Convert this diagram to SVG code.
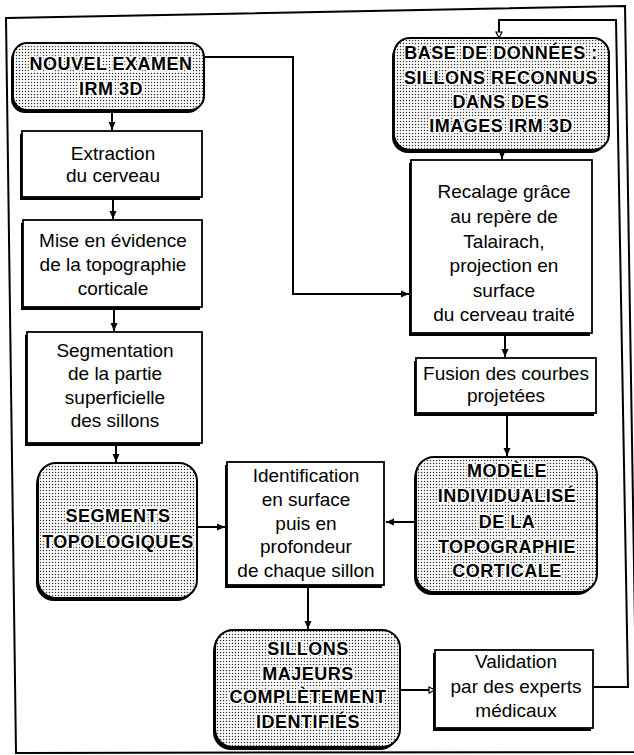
<svg xmlns="http://www.w3.org/2000/svg" width="634" height="755" viewBox="0 0 634 755">
<style>
.box{fill:#fff;stroke:#000;stroke-width:1.8}
.shd{fill:#000}
.dot{fill:url(#dots);stroke:#000;stroke-width:2}
.t{font-family:"Liberation Sans",Arial,sans-serif;font-size:19px;fill:#000;text-anchor:middle}
.b{font-family:"Liberation Sans",Arial,sans-serif;font-size:18px;font-weight:bold;letter-spacing:0.5px;fill:#000;text-anchor:middle;stroke:#fff;stroke-width:3;paint-order:stroke;stroke-linejoin:round}
.c{fill:none;stroke:#000;stroke-width:2}
</style>
<defs>
<pattern id="dots" patternUnits="userSpaceOnUse" width="3" height="3">
<rect width="3" height="3" fill="#fff"/>
<circle cx="1.5" cy="1.5" r="0.72" fill="#333"/>
</pattern>
<marker id="ar" markerUnits="userSpaceOnUse" markerWidth="9" markerHeight="8" refX="8" refY="4" orient="auto">
<path d="M0,0.5 L8,4 L0,7.5 z" fill="#000"/>
</marker>
<marker id="ah" markerUnits="userSpaceOnUse" markerWidth="9" markerHeight="9" refX="7" refY="4" orient="auto">
<path d="M1,1 L7,4 L1,7 z" fill="#fff" stroke="#000" stroke-width="1.2"/>
</marker>
</defs>
<rect width="634" height="755" fill="#fff"/>
<polygon points="6,18 625,6 637,752 16,753" fill="none" stroke="#000" stroke-width="2"/>

<g id="connectors">
<polyline class="c" points="204,57 293,57 293,294 409,294" marker-end="url(#ar)"/>
<line class="c" x1="112" y1="110" x2="112" y2="130" marker-end="url(#ar)"/>
<line class="c" x1="113" y1="197" x2="113" y2="219" marker-end="url(#ar)"/>
<line class="c" x1="114" y1="307" x2="114" y2="331" marker-end="url(#ar)"/>
<line class="c" x1="116" y1="443" x2="116" y2="462" marker-end="url(#ar)"/>
<line class="c" x1="197" y1="527" x2="225" y2="527" marker-end="url(#ar)"/>
<line class="c" x1="502" y1="150" x2="502" y2="159" marker-end="url(#ar)"/>
<line class="c" x1="505" y1="333" x2="505" y2="357" marker-end="url(#ar)"/>
<line class="c" x1="507" y1="413" x2="507" y2="456" marker-end="url(#ar)"/>
<line class="c" x1="416" y1="522" x2="386" y2="522" marker-end="url(#ar)"/>
<line class="c" x1="308" y1="585" x2="308" y2="629" marker-end="url(#ar)"/>
<line class="c" x1="400" y1="690" x2="435" y2="690" marker-end="url(#ah)"/>
<polyline class="c" points="593,687 628,687 616,20 499,20 499,38" marker-end="url(#ah)"/>
</g>

<g id="n1">
<rect class="shd" x="11" y="46" width="191" height="67" rx="14"/>
<rect class="dot" x="13" y="43" width="191" height="67" rx="14"/>
<text class="b" x="111" y="70">NOUVEL EXAMEN</text>
<text class="b" x="111" y="95">IRM 3D</text>
</g>

<g id="n2">
<rect class="shd" x="20" y="134" width="180" height="66"/>
<rect class="box" x="22" y="131" width="180" height="66"/>
<text class="t" x="113" y="160">Extraction</text>
<text class="t" x="113" y="182">du cerveau</text>
</g>

<g id="n3">
<rect class="shd" x="21" y="223" width="179" height="87"/>
<rect class="box" x="23" y="220" width="179" height="87"/>
<text class="t" x="113" y="247">Mise en évidence</text>
<text class="t" x="113" y="271">de la topographie</text>
<text class="t" x="113" y="295">corticale</text>
</g>

<g id="n4">
<rect class="shd" x="25" y="335" width="175" height="111"/>
<rect class="box" x="27" y="332" width="175" height="111"/>
<text class="t" x="115" y="357">Segmentation</text>
<text class="t" x="115" y="380">de la partie</text>
<text class="t" x="115" y="404">superficielle</text>
<text class="t" x="115" y="427">des sillons</text>
</g>

<g id="n5">
<rect class="shd" x="36" y="466" width="159" height="135" rx="18"/>
<rect class="dot" x="38" y="463" width="159" height="135" rx="18"/>
<text class="b" x="118" y="522">SEGMENTS</text>
<text class="b" x="118" y="548">TOPOLOGIQUES</text>
</g>

<g id="n6">
<rect class="shd" x="225" y="465" width="157" height="123"/>
<rect class="box" x="227" y="462" width="157" height="123"/>
<text class="t" x="306" y="482">Identification</text>
<text class="t" x="306" y="506">en surface</text>
<text class="t" x="306" y="530">puis en</text>
<text class="t" x="306" y="553">profondeur</text>
<text class="t" x="306" y="577">de chaque sillon</text>
</g>

<g id="n7">
<rect class="shd" x="392" y="41" width="215" height="112" rx="16"/>
<rect class="dot" x="394" y="38" width="215" height="112" rx="16"/>
<text class="b" x="501" y="59">BASE DE DONNÉES :</text>
<text class="b" x="501" y="84">SILLONS RECONNUS</text>
<text class="b" x="501" y="108">DANS DES</text>
<text class="b" x="501" y="132">IMAGES IRM 3D</text>
</g>

<g id="n8">
<rect class="shd" x="409" y="163" width="181" height="173"/>
<rect class="box" x="411" y="160" width="181" height="173"/>
<text class="t" x="504" y="198">Recalage grâce</text>
<text class="t" x="504" y="223">au repère de</text>
<text class="t" x="504" y="248">Talairach,</text>
<text class="t" x="504" y="272">projection en</text>
<text class="t" x="504" y="297">surface</text>
<text class="t" x="504" y="321">du cerveau traité</text>
</g>

<g id="n9">
<rect class="shd" x="414" y="361" width="180" height="55"/>
<rect class="box" x="416" y="358" width="180" height="55"/>
<text class="t" x="506" y="380">Fusion des courbes</text>
<text class="t" x="506" y="402">projetées</text>
</g>

<g id="n10">
<rect class="shd" x="414" y="460" width="181" height="135" rx="18"/>
<rect class="dot" x="416" y="457" width="181" height="135" rx="18"/>
<text class="b" x="507" y="477">MODÈLE</text>
<text class="b" x="507" y="502">INDIVIDUALISÉ</text>
<text class="b" x="507" y="528">DE LA</text>
<text class="b" x="507" y="553">TOPOGRAPHIE</text>
<text class="b" x="507" y="577">CORTICALE</text>
</g>

<g id="n11">
<rect class="shd" x="213" y="633" width="185" height="117" rx="18"/>
<rect class="dot" x="215" y="630" width="185" height="117" rx="18"/>
<text class="b" x="308" y="655">SILLONS</text>
<text class="b" x="308" y="680">MAJEURS</text>
<text class="b" x="308" y="703">COMPLÈTEMENT</text>
<text class="b" x="308" y="728">IDENTIFIÉS</text>
</g>

<g id="n12">
<rect class="shd" x="433" y="653" width="158" height="78"/>
<rect class="box" x="435" y="650" width="158" height="78"/>
<text class="t" x="516" y="668">Validation</text>
<text class="t" x="516" y="693">par des experts</text>
<text class="t" x="516" y="717">médicaux</text>
</g>
</svg>
